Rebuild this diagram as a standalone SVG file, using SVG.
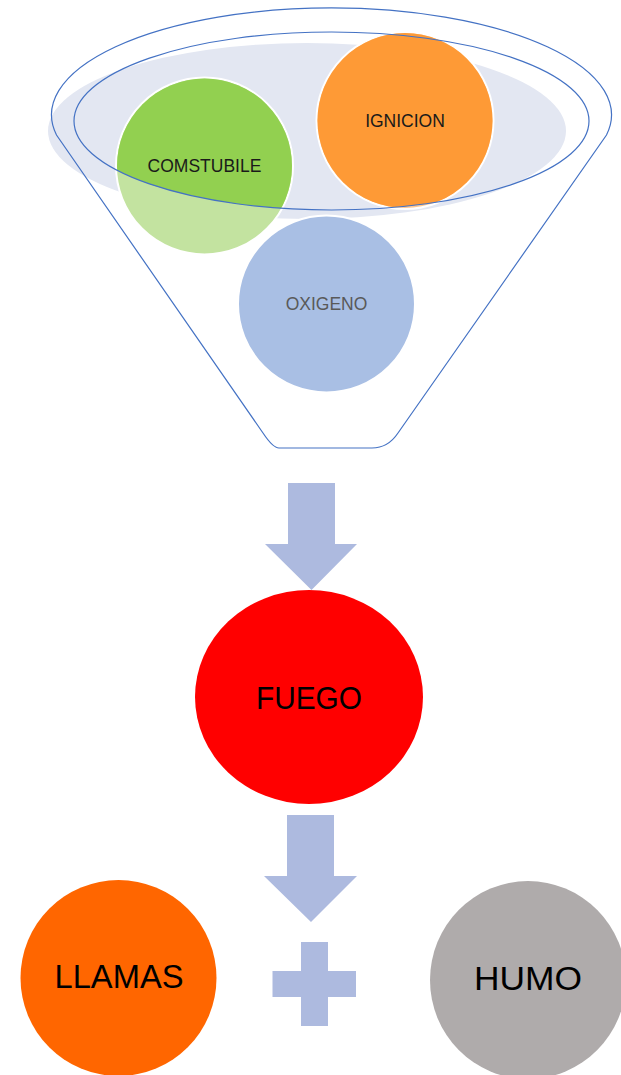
<svg xmlns="http://www.w3.org/2000/svg" width="621" height="1075" viewBox="0 0 621 1075">
  <style>
    .lbl { font-family: "Liberation Sans", Arial, sans-serif; text-anchor: middle; }
    .small { font-size: 17.5px; fill: #1a1a1a; }
    .big { font-size: 34px; fill: #000; }
    .ball { stroke: #ffffff; stroke-width: 2; }
    .outline { fill: none; stroke: #4472c4; stroke-width: 1.2; }
    .flow { fill: #adbadf; }
  </style>
  <defs>
    <!-- the open mouth of the funnel: balls show full colour here -->
    <clipPath id="mouth">
      <ellipse cx="331.5" cy="121" rx="257.5" ry="89"/>
      <rect x="0" y="0" width="621" height="121"/>
    </clipPath>
  </defs>

  <rect width="621" height="1075" fill="#ffffff"/>

  <g id="funnel-back">
    <ellipse cx="307" cy="131" rx="259" ry="88" fill="#e3e7f2"/>
  </g>
  <g id="comstubile">
    <circle class="ball" cx="204.5" cy="166" r="88.5" fill="#c3e3a0"/>
    <circle cx="204.5" cy="166" r="87.5" fill="#92d050" clip-path="url(#mouth)"/>
    <text class="lbl small" x="204.5" y="172">COMSTUBILE</text>
  </g>
  <g id="ignicion">
    <circle class="ball" cx="405" cy="120.5" r="88.5" fill="#fec790"/>
    <circle cx="405" cy="120.5" r="87.5" fill="#fe9a36" clip-path="url(#mouth)"/>
    <text class="lbl small" x="405" y="127">IGNICION</text>
  </g>
  <g id="funnel">
    <path class="outline" d="M56.5,135 A280,107 0 1 1 606.5,135 L398,433 Q388,448 372,448 L279,448 Q273,448 263,433 Z"/>
    <ellipse class="outline" cx="331.5" cy="121" rx="257.5" ry="89"/>
  </g>
  <g id="oxigeno">
    <circle class="ball" cx="326.5" cy="304" r="88.5" fill="#a9bfe4"/>
    <text class="lbl small" x="326.5" y="310" style="fill:#595959">OXIGENO</text>
  </g>

  <!-- connectors -->
  <g id="connectors">
    <path class="flow" d="M288,483 L335,483 L335,544 L357,544 L311.5,590 L265,544 L288,544 Z"/>
    <path class="flow" d="M287,815 L334,815 L334,876 L357,876 L311,922 L264,876 L287,876 Z"/>
    <path class="flow" d="M301,942 L328,942 L328,971 L356,971 L356,997 L328,997 L328,1026 L301,1026 L301,997 L272.5,997 L272.5,971 L301,971 Z"/>
  </g>

  <g id="fuego">
    <ellipse cx="309" cy="697" rx="114" ry="107" fill="#ff0000"/>
    <text class="lbl big" x="309" y="709" style="font-size:32px" textLength="106" lengthAdjust="spacingAndGlyphs">FUEGO</text>
  </g>
  <g id="llamas">
    <ellipse cx="118.5" cy="978" rx="98" ry="98" fill="#ff6600"/>
    <text class="lbl big" x="119" y="988" textLength="129" lengthAdjust="spacingAndGlyphs">LLAMAS</text>
  </g>
  <g id="humo">
    <ellipse cx="528" cy="980" rx="98" ry="99" fill="#afabab"/>
    <text class="lbl big" x="528" y="990" textLength="108" lengthAdjust="spacingAndGlyphs">HUMO</text>
  </g>
</svg>
